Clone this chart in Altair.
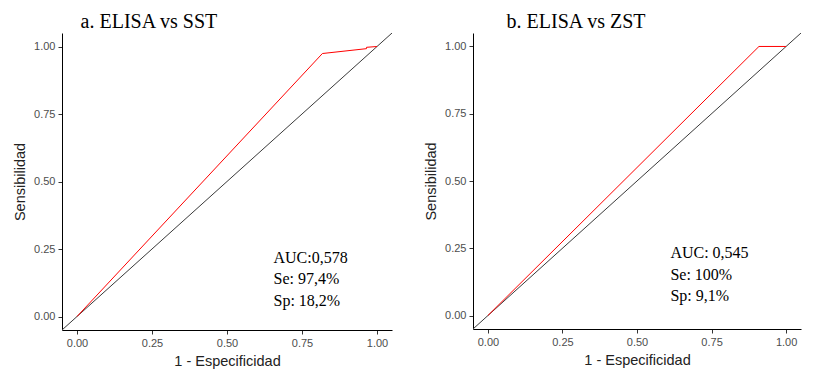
import altair as alt
import pandas as pd

# ---- data ----
fpr_a = [0.0, 0.818, 0.965, 0.965, 1.0]
tpr_a = [0.0, 0.974, 0.992, 0.997, 1.0]
fpr_b = [0.0, 0.909, 1.0]
tpr_b = [0.0, 1.0, 1.0]
diag = [-0.05, 1.05]
labels_a = ["AUC:0,578", "Se: 97,4%", "Sp: 18,2%"]
labels_b = ["AUC: 0,545", "Se: 100%", "Sp: 9,1%"]
lab_x_a = [0.655, 0.655, 0.655]
lab_y_a = [0.200, 0.121, 0.040]
lab_x_b = [0.612, 0.612, 0.612]
lab_y_b = [0.215, 0.133, 0.054]
ticks = [0.0, 0.25, 0.5, 0.75, 1.0]
titles = ["a. ELISA vs SST", "b. ELISA vs ZST"]

SANS = "Liberation Sans"
SERIF = "Liberation Serif"

def xscale():
    return alt.Scale(domain=[-0.05, 1.05], nice=False, zero=False)

def panel(fpr, tpr, labs, lx, ly, title, w, h, tdx):
    curve = pd.DataFrame({"x": fpr, "y": tpr, "o": list(range(len(fpr)))})
    dg = pd.DataFrame({"x": diag, "y": diag})
    tx = pd.DataFrame({"x": lx, "y": ly, "t": labs})
    xax = alt.Axis(values=ticks, format=".2f", title="1 - Especificidad")
    yax = alt.Axis(values=ticks, format=".2f", title="Sensibilidad")
    base_x = alt.X("x:Q", scale=xscale(), axis=xax)
    base_y = alt.Y("y:Q", scale=xscale(), axis=yax)
    d = alt.Chart(dg).mark_line(color="#3a3a3a", strokeWidth=1, clip=True).encode(x=base_x, y=base_y)
    r = alt.Chart(curve).mark_line(color="#ff0000", strokeWidth=1, clip=True).encode(
        x=base_x, y=base_y, order="o:Q")
    t = alt.Chart(tx).mark_text(align="left", baseline="alphabetic", font=SERIF,
                                fontSize=16, color="#000000").encode(
        x=base_x, y=base_y, text="t:N")
    return alt.layer(d, r, t).properties(
        width=w, height=h,
        title=alt.TitleParams(title, anchor="start", dx=tdx, offset=1, font=SERIF,
                              fontSize=20, fontWeight="normal", color="#000000"))

pa = panel(fpr_a, tpr_a, labels_a, lab_x_a, lab_y_a, titles[0], 330, 297, 68)
pb = panel(fpr_b, tpr_b, labels_b, lab_x_b, lab_y_b, titles[1], 328, 296, 83)

chart = alt.hconcat(pa, pb, spacing=31).properties(
    padding={"left": 4, "top": 4, "right": 5, "bottom": 5}
).configure_view(stroke=None).configure_axis(
    grid=False, domainColor="#000000", domainWidth=1, tickColor="#333333", tickSize=4,
    tickWidth=1, labelColor="#4d4d4d", labelFont=SANS, labelFontSize=11, labelPadding=3,
    titleFont=SANS, titleFontSize=14.5, titleFontWeight="normal", titleColor="#222222",
    titlePadding=6
)

chart.save("out.html", embed_options={"renderer": "svg", "actions": False})
